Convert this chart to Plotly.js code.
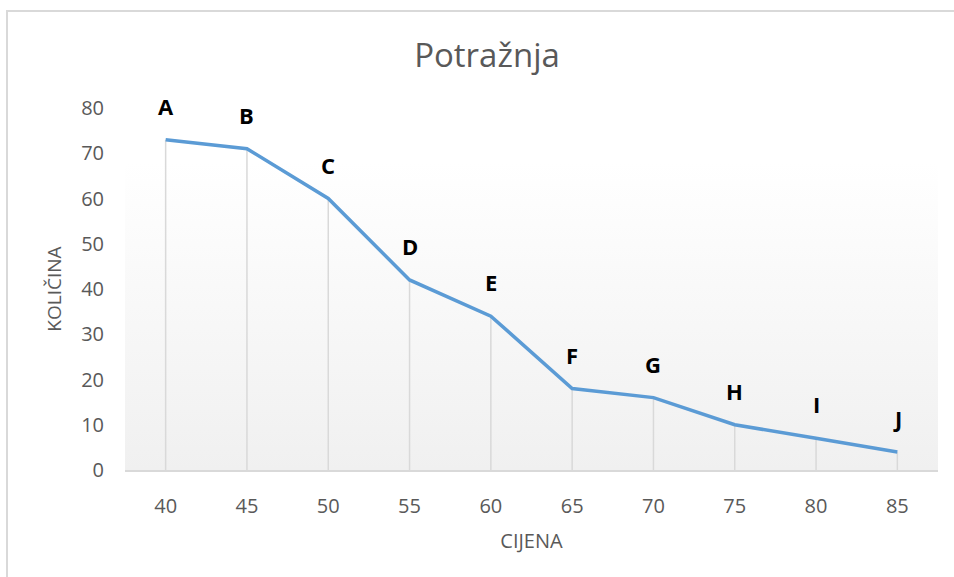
<!DOCTYPE html>
<html>
<head>
<meta charset="utf-8">
<script src="https://cdn.plot.ly/plotly-3.0.1.min.js"></script>
<style>
  html, body { margin: 0; padding: 0; background: #ffffff; overflow: hidden; }
  #chart { position: absolute; left: 0; top: 0; width: 954px; height: 577px; }
  #frame { position: absolute; left: 6px; top: 10px; width: 1000px; height: 600px;
           border-left: 2px solid #d9d9d9; border-top: 2px solid #d9d9d9; pointer-events: none; }
</style>
</head>
<body>
<div id="chart"></div>
<div id="frame"></div>
<script>
const prices = [40, 45, 50, 55, 60, 65, 70, 75, 80, 85];
const quantities = [73, 71, 60, 42, 34, 18, 16, 10, 7, 4];
const pointLabels = ['A', 'B', 'C', 'D', 'E', 'F', 'G', 'H', 'I', 'J'];
const yTicks = [0, 10, 20, 30, 40, 50, 60, 70, 80];

const textGray = '#595959';
const fontFam = '"Open Sans", "DejaVu Sans", sans-serif';

const gradSvg = '<svg xmlns="http://www.w3.org/2000/svg" width="10" height="100" preserveAspectRatio="none">' +
  '<defs><linearGradient id="g" x1="0" y1="0" x2="0" y2="1">' +
  '<stop offset="0" stop-color="#ffffff"/><stop offset="0.15" stop-color="#ffffff"/>' +
  '<stop offset="1" stop-color="#f0f0f0"/></linearGradient></defs>' +
  '<rect width="10" height="100" fill="url(#g)"/></svg>';

const dropTrace = {
  x: prices,
  y: quantities,
  type: 'scatter',
  mode: 'markers',
  marker: { size: 0.1, color: 'rgba(0,0,0,0)' },
  error_y: {
    type: 'data',
    symmetric: false,
    array: quantities.map(() => 0),
    arrayminus: quantities,
    color: '#d9d9d9',
    thickness: 1.5,
    width: 0
  },
  hoverinfo: 'skip',
  showlegend: false
};

const lineTrace = {
  x: prices,
  y: quantities,
  type: 'scatter',
  mode: 'lines',
  line: { color: '#5b9bd5', width: 3.5 },
  showlegend: false
};

const annotations = prices.map((p, i) => ({
  x: p,
  y: quantities[i],
  text: '<b>' + pointLabels[i] + '</b>',
  showarrow: false,
  yshift: 34,
  font: { family: fontFam, size: 22, color: '#000000' }
}));

const layout = {
  width: 954,
  height: 577,
  paper_bgcolor: 'rgba(0,0,0,0)',
  plot_bgcolor: 'rgba(0,0,0,0)',
  margin: { l: 125, r: 16, t: 108, b: 107 },
  title: {
    text: 'Potražnja',
    xref: 'container',
    x: 487 / 954,
    xanchor: 'center',
    yref: 'container',
    y: 1 - 55 / 577,
    yanchor: 'middle',
    font: { family: fontFam, size: 33, color: textGray }
  },
  xaxis: {
    range: [37.5, 87.5],
    tickvals: prices,
    ticktext: prices.map(String),
    showgrid: false,
    zeroline: false,
    showline: true,
    linecolor: '#d9d9d9',
    linewidth: 2,
    ticks: '',
    ticklabelstandoff: 17,
    tickfont: { family: fontFam, size: 20, color: textGray },
    title: { text: 'CIJENA', standoff: 16, font: { family: fontFam, size: 20, color: textGray } },
    fixedrange: true
  },
  yaxis: {
    range: [0, 80],
    tickvals: yTicks,
    ticktext: yTicks.map(String),
    showgrid: false,
    zeroline: false,
    showline: false,
    ticks: '',
    ticklabelstandoff: 20,
    tickfont: { family: fontFam, size: 20, color: textGray },
    title: { text: 'KOLIČINA', standoff: 14, font: { family: fontFam, size: 19, color: textGray } },
    fixedrange: true
  },
  images: [{
    source: 'data:image/svg+xml;charset=utf-8,' + encodeURIComponent(gradSvg),
    xref: 'paper', yref: 'paper',
    x: 0, y: 1, sizex: 1, sizey: 1,
    xanchor: 'left', yanchor: 'top',
    sizing: 'stretch',
    layer: 'below'
  }],
  annotations: annotations
};

Plotly.newPlot('chart', [dropTrace, lineTrace], layout, { displayModeBar: false, staticPlot: true });
</script>
</body>
</html>
